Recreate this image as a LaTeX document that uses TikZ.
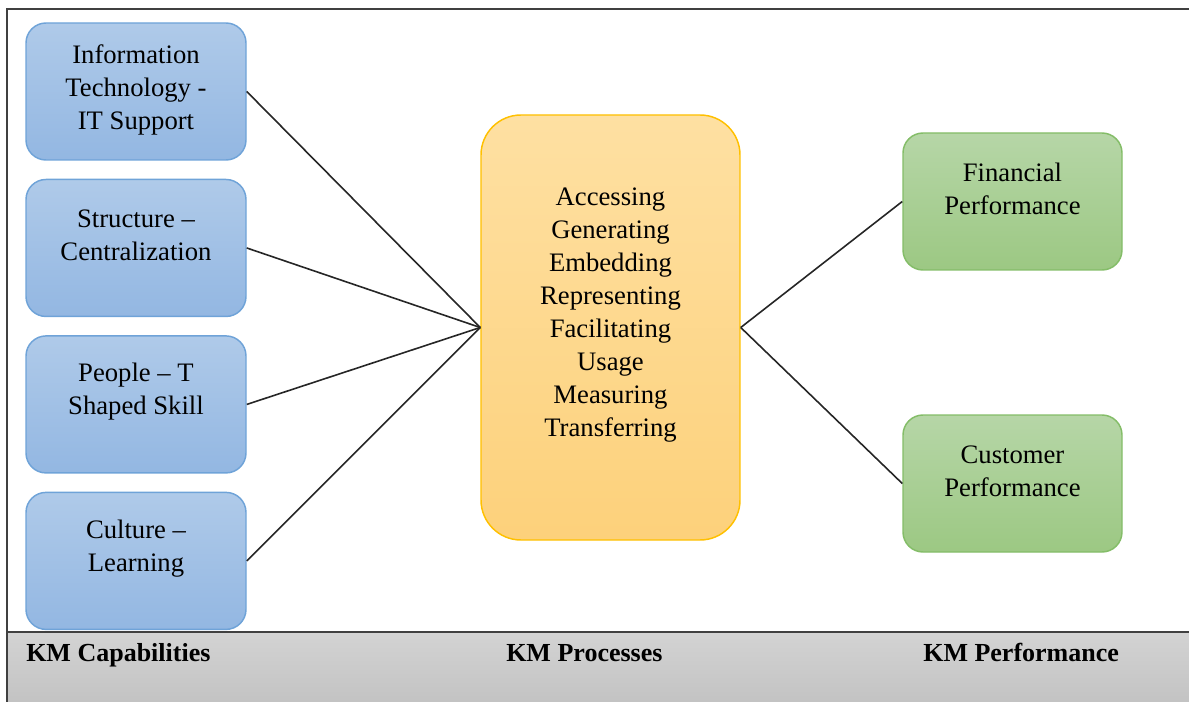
\documentclass[tikz,border=0pt]{standalone}
\usepackage{fontspec}
\setmainfont{Liberation Serif}
\usetikzlibrary{positioning}

\definecolor{captop}{HTML}{AFCAE9}
\definecolor{capbot}{HTML}{93B7E2}
\definecolor{capborder}{HTML}{6FA3D8}
\definecolor{proctop}{HTML}{FEE0A2}
\definecolor{procbot}{HTML}{FDD17B}
\definecolor{procborder}{HTML}{FFC000}
\definecolor{perftop}{HTML}{B6D6A7}
\definecolor{perfbot}{HTML}{9CC883}
\definecolor{perfborder}{HTML}{84BD68}
\definecolor{bartop}{HTML}{D3D3D3}
\definecolor{barbot}{HTML}{C3C3C3}
\definecolor{framecol}{HTML}{404040}

\tikzset{
  boxtext/.style={align=center,font=\fontsize{20}{24.75}\selectfont,yshift=9.5pt},
  capbox/.style={draw=capborder,line width=1.1pt,rounded corners=15pt,
    top color=captop,bottom color=capbot,minimum width=165pt,minimum height=102.75pt},
  procbox/.style={draw=procborder,line width=1.1pt,rounded corners=30pt,
    top color=proctop,bottom color=procbot,minimum width=194.25pt,minimum height=318.75pt},
  perfbox/.style={draw=perfborder,line width=1.1pt,rounded corners=15pt,
    top color=perftop,bottom color=perfbot,minimum width=164.25pt,minimum height=102.75pt},
  link/.style={draw=black!85,line width=1.2pt},
  barlabel/.style={anchor=base west,inner sep=0pt,font=\fontsize{19.5}{24}\selectfont\bfseries}
}

\begin{document}
\begin{tikzpicture}[x=0.75pt,y=-0.75pt]
  \useasboundingbox (0,0) rectangle (1189,702);

  % frame and bottom bar
  \fill[top color=bartop,bottom color=barbot] (7,632) rectangle (1189,702);
  \draw[framecol,line width=1.5pt] (1189,9) -- (7,9) -- (7,702);
  \draw[framecol,line width=1.5pt] (7,632) -- (1189,632);

  % KM capabilities
  \node[capbox,label={[boxtext,yshift=-8.25pt]center:{Information\\Technology -\\IT Support}}] (it) at (136,91.5) {};
  \node[capbox,below=13.5pt of it,label={[boxtext]center:{Structure –\\Centralization}}] (struct) {};
  \node[capbox,below=13.5pt of struct,label={[boxtext]center:{People – T\\Shaped Skill}}] (people) {};
  \node[capbox,below=13.5pt of people,label={[boxtext]center:{Culture –\\Learning}}] (culture) {};

  % KM processes
  \node[procbox,label={[boxtext]center:{Accessing\\Generating\\Embedding\\Representing\\Facilitating\\Usage\\Measuring\\Transferring}}] (proc) at (610.5,327.5) {};

  % KM performance
  \node[perfbox,label={[boxtext]center:{Financial\\Performance}}] (fin) at (1012.5,201.5) {};
  \node[perfbox,label={[boxtext]center:{Customer\\Performance}}] (cust) at (1012.5,483.5) {};

  % links
  \draw[link] (it.east) -- (proc.west);
  \draw[link] (struct.east) -- (proc.west);
  \draw[link] (people.east) -- (proc.west);
  \draw[link] (culture.east) -- (proc.west);
  \draw[link] (proc.east) -- (fin.west);
  \draw[link] (proc.east) -- (cust.west);

  % bar labels
  \node[barlabel] (caplabel) at (26,661) {KM Capabilities};
  \node[barlabel] (proclabel) at (506,661) {KM Processes};
  \node[barlabel] (perflabel) at (923,661) {KM Performance};
\end{tikzpicture}
\end{document}
